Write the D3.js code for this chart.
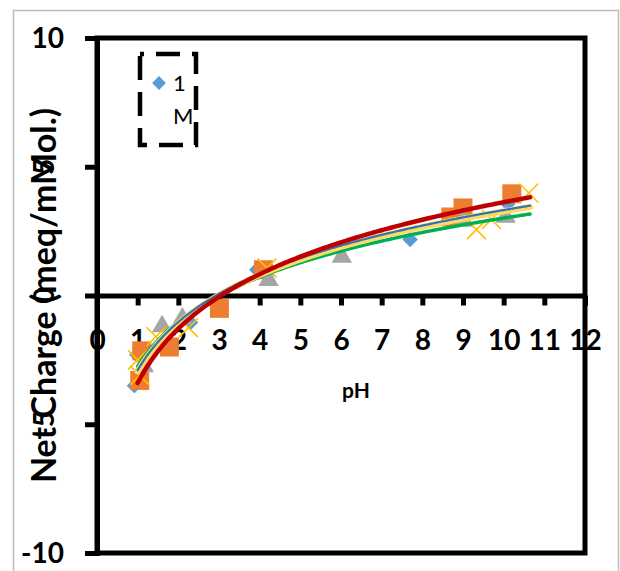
<!DOCTYPE html>
<html>
<head>
<meta charset="utf-8">
<script src="https://cdn.jsdelivr.net/npm/d3@7"></script>
<style>
  body { margin: 0; background: #fff; }
  text { font-family: Lato, "Open Sans", sans-serif; }
</style>
</head>
<body>
<svg id="main" width="620" height="571"></svg>
<script>
// series readings (pH, net charge)
const bluePH = [0.92, 0.98, 2.3, 3.93, 7.7, 10.1];
const blueCharge = [-3.5, -2.3, -1.05, 1.0, 2.17, 3.55];
const orangePH = [1.05, 1.1, 1.78, 3.01, 4.09, 8.7, 9.0, 10.2];
const orangeCharge = [-3.3, -2.15, -2.0, -0.5, 1.0, 3.05, 3.4, 3.95];
const grayPH = [1.15, 1.6, 2.1, 4.22, 6.02, 9.02, 10.05];
const grayCharge = [-2.75, -1.2, -0.9, 0.6, 1.5, 2.9, 3.05];
const goldPH = [1.0, 1.05, 1.45, 2.25, 4.18, 9.33, 9.7, 10.62];
const goldCharge = [-2.5, -3.1, -1.6, -1.25, 1.07, 2.56, 2.95, 3.98];

// log trendlines: charge = a * ln(pH) + b
const trendNames = ["green", "yellow", "blue", "red"];
const trendA = [2.5, 2.7, 2.7, 3.05];
const trendB = [-2.75, -2.95, -2.9, -3.4];
const trendRange = [1.0, 10.65];

const xTicks = [0, 1, 2, 3, 4, 5, 6, 7, 8, 9, 10, 11, 12];
const yTicks = [10, 5, 0, -5, -10];
const legendLabels = ["1", "M"];

const svg = d3.select('#main');

const xScale = d3.scaleLinear().domain([0, 12]).range([97, 585]);
const yScale = d3.scaleLinear().domain([-10, 10]).range([553, 38]);

// outer chart border
svg.append('rect')
    .attr('x', 13.5).attr('y', 10.5)
    .attr('width', 605).attr('height', 700)
    .attr('fill', 'white')
    .attr('stroke', '#bcbcbc')
    .attr('stroke-width', 1.5);

// plot area border
svg.append('rect')
    .attr('x', xScale(0)).attr('y', yScale(10))
    .attr('width', xScale(12) - xScale(0))
    .attr('height', yScale(-10) - yScale(10))
    .attr('fill', 'none')
    .attr('stroke', 'black')
    .attr('stroke-width', 5);

// y axis
const yAxis = svg.append('g')
    .attr('transform', `translate(${xScale(0)},0)`)
    .call(d3.axisLeft(yScale).tickValues(yTicks).tickSize(12).tickFormat(''));
yAxis.selectAll('line, path').attr('stroke', 'black').attr('stroke-width', 5);

// y tick labels: ends horizontal, middle ones rotated
yTicks.forEach(v => {
    const t = svg.append('text')
        .text(v)
        .attr('font-size', 28)
        .attr('font-weight', 'bold');
    if (Math.abs(v) === 10) {
        t.attr('x', 64).attr('y', yScale(v)).attr('dy', '0.36em').attr('text-anchor', 'end');
    } else {
        t.attr('text-anchor', 'middle')
            .attr('transform', `translate(54,${yScale(v)}) rotate(-90)`);
    }
});

// x axis at zero
const xAxis = svg.append('g')
    .attr('transform', `translate(0,${yScale(0)})`)
    .call(d3.axisBottom(xScale).tickValues(xTicks).tickSize(10).tickSizeOuter(0).tickPadding(25));
xAxis.selectAll('line, path').attr('stroke', 'black').attr('stroke-width', 5);
xAxis.selectAll('text')
    .attr('font-family', 'Lato, sans-serif')
    .attr('font-size', 28)
    .attr('font-weight', 'bold')
    .attr('fill', 'black');

// axis titles
svg.append('text')
    .text('pH')
    .attr('x', 356).attr('y', 398)
    .attr('text-anchor', 'middle')
    .attr('font-size', 21)
    .attr('font-weight', 'bold');

svg.append('text')
    .text('Net Charge (meq/mMol.)')
    .attr('text-anchor', 'middle')
    .attr('font-size', 34)
    .attr('font-weight', 'bold')
    .attr('transform', `translate(56,${yScale(0)}) rotate(-90)`);

// markers
const xMark = {
    draw(context, size) {
        const r = Math.sqrt(size) / 2;
        context.moveTo(-r, -r); context.lineTo(r, r);
        context.moveTo(r, -r); context.lineTo(-r, r);
    }
};

function drawSeries(px, py, type, size, fill, stroke, rot) {
    svg.append('g')
        .selectAll('path')
        .data(px.map((p, i) => [p, py[i]]))
        .enter()
        .append('path')
        .attr('d', d3.symbol().type(type).size(size))
        .attr('transform', d => `translate(${xScale(d[0])},${yScale(d[1])}) rotate(${rot})`)
        .attr('fill', fill)
        .attr('stroke', stroke)
        .attr('stroke-width', stroke === 'none' ? 0 : 1.6);
}

drawSeries(bluePH, blueCharge, d3.symbolSquare, 120, '#5b9bd5', 'none', 45);
drawSeries(orangePH, orangeCharge, d3.symbolSquare, 360, '#ed7d31', 'none', 0);
drawSeries(grayPH, grayCharge, d3.symbolTriangle, 180, '#a5a5a5', 'none', 0);
drawSeries(goldPH, goldCharge, xMark, 360, 'none', '#ffc000', 0);

// trendlines
const trendColor = { green: '#00b050', yellow: '#ffd966', blue: '#2e75b6', red: '#c00000' };
const trendWidth = { green: 3.5, yellow: 6, blue: 2.2, red: 4.5 };
const samples = d3.range(trendRange[0], trendRange[1], 0.05).concat([trendRange[1]]);

const line = d3.line()
    .x(d => xScale(d[0]))
    .y(d => yScale(d[1]))
    .curve(d3.curveLinear);

trendNames.forEach((name, i) => {
    svg.append('path')
        .datum(samples.map(p => [p, trendA[i] * Math.log(p) + trendB[i]]))
        .attr('d', line)
        .attr('fill', 'none')
        .attr('stroke', trendColor[name])
        .attr('stroke-width', trendWidth[name])
        .attr('stroke-linecap', 'round');
});

// legend
const legend = svg.append('g');
legend.append('rect')
    .attr('x', 140).attr('y', 54)
    .attr('width', 56).attr('height', 91)
    .attr('fill', 'none')
    .attr('stroke', 'black')
    .attr('stroke-width', 4.5)
    .attr('stroke-dasharray', '24 12')
    .attr('stroke-dashoffset', -16);
legend.append('path')
    .attr('d', d3.symbol().type(d3.symbolSquare).size(95))
    .attr('transform', 'translate(159,83) rotate(45)')
    .attr('fill', '#5b9bd5');
legend.selectAll('text.lab')
    .data(legendLabels)
    .enter()
    .append('text')
    .attr('class', 'lab')
    .text(d => d)
    .attr('x', 173)
    .attr('y', (d, i) => 91 + i * 33)
    .attr('font-family', 'Liberation Sans, Arial, sans-serif')
    .attr('font-size', 22);
</script>
</body>
</html>
